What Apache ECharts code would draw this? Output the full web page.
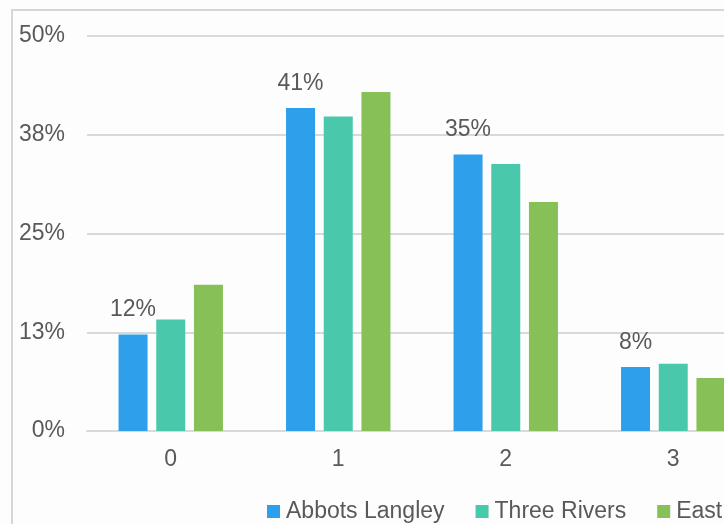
<!DOCTYPE html>
<html>
<head>
<meta charset="utf-8">
<script src="https://cdn.jsdelivr.net/npm/echarts@6/dist/echarts.min.js"></script>
<style>
  html, body { margin: 0; padding: 0; width: 724px; height: 524px; overflow: hidden; background: #fdfdfd; }
  #chart { position: absolute; left: 0; top: 0; width: 1000px; height: 524px; }
</style>
</head>
<body>
<div id="chart"></div>
<script>
// Share of households by number of cars (%)
const categories = ['0', '1', '2', '3'];
const abbotsLangley = [12.2, 40.9, 35.0, 8.1];
const threeRivers = [14.1, 39.8, 33.8, 8.5];
const eastOfEngland = [18.5, 42.9, 29.0, 6.7];
const seriesNames = ['Abbots Langley', 'Three Rivers', 'East of England'];
const yTicks = [0, 12.5, 25, 37.5, 50];

const font = 'Liberation Sans, Arial, sans-serif';
const fontSize = 23;
const textColor = '#595959';
const gridColor = '#d9d9d9';

const chart = echarts.init(document.getElementById('chart'), null, { renderer: 'canvas' });

chart.setOption({
  backgroundColor: '#fdfdfd',
  animation: false,
  textStyle: { fontFamily: font },
  graphic: [
    { type: 'line', shape: { x1: 11, y1: 10, x2: 1000, y2: 10 }, style: { stroke: '#d6d6d6', lineWidth: 2 } },
    { type: 'line', shape: { x1: 12, y1: 9, x2: 12, y2: 524 }, style: { stroke: '#d6d6d6', lineWidth: 2 } }
  ],
  grid: { left: 87, top: 36, right: 243, bottom: 93, containLabel: false },
  legend: {
    data: seriesNames,
    left: 267,
    top: 500,
    width: 720,
    padding: 0,
    icon: 'rect',
    itemWidth: 13,
    itemHeight: 13,
    itemGap: 31,
    textStyle: { color: textColor, fontSize: fontSize, fontFamily: font, padding: [0, 0, 0, 1] }
  },
  xAxis: {
    type: 'category',
    data: categories,
    axisLine: { lineStyle: { color: gridColor, width: 2 } },
    axisTick: { show: false },
    axisLabel: { color: textColor, fontSize: fontSize, margin: 17, fontFamily: font }
  },
  yAxis: {
    type: 'value',
    min: yTicks[0],
    max: yTicks[yTicks.length - 1],
    interval: yTicks[1] - yTicks[0],
    axisLine: { show: false },
    axisTick: { show: false },
    splitLine: { lineStyle: { color: gridColor, width: 2 } },
    axisLabel: {
      color: textColor,
      fontSize: fontSize,
      margin: 22,
      fontFamily: font,
      formatter: v => Math.round(v) + '%'
    }
  },
  series: [
    {
      name: seriesNames[0],
      type: 'bar',
      data: abbotsLangley,
      barWidth: 29,
      barGap: '30%',
      itemStyle: { color: '#2D9FEB' },
      label: {
        show: true,
        position: 'top',
        distance: 13,
        color: textColor,
        fontSize: fontSize,
        fontFamily: font,
        formatter: p => Math.round(p.value) + '%'
      }
    },
    {
      name: seriesNames[1],
      type: 'bar',
      data: threeRivers,
      barWidth: 29,
      barGap: '30%',
      itemStyle: { color: '#4AC8AB' }
    },
    {
      name: seriesNames[2],
      type: 'bar',
      data: eastOfEngland,
      barWidth: 29,
      barGap: '30%',
      itemStyle: { color: '#86C057' }
    }
  ]
});
</script>
</body>
</html>
